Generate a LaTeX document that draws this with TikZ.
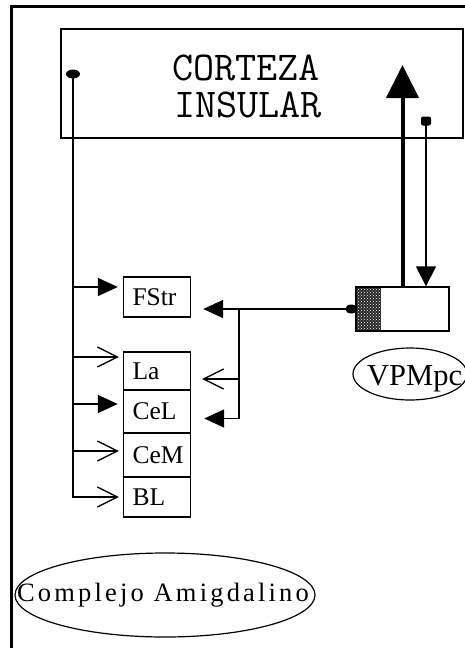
\documentclass[tikz,border=0pt]{standalone}
\usepackage{fontspec}
\setmainfont{Liberation Serif}
\newfontfamily\spacedfam[LetterSpace=12]{Liberation Serif}
\usetikzlibrary{arrows.meta,shapes.geometric,patterns}
\begin{document}
\begin{tikzpicture}[x=1pt,y=-1pt,
  ln/.style={line width=1.6pt},
  fillhead/.style={-{Triangle[length=20pt,width=18pt]}},
  openhead/.style={-{Straight Barb[length=20pt,width=20pt,line width=1.3pt]}},
  nucleus/.style={draw,line width=1.4pt,rectangle,minimum width=67pt,text width=49pt,
    inner xsep=9pt,inner ysep=0pt,align=left,font=\fontsize{25.5}{28}\selectfont},
  framebox/.style={draw,line width=1.4pt,rectangle,inner sep=0pt},
  oval/.style={draw,ellipse,line width=1.2pt,inner sep=0pt},
  cortexfont/.style={font=\ttfamily\fontsize{41}{41}\selectfont,anchor=base,inner sep=0pt}
]
\useasboundingbox (0,0) rectangle (465,648);
\clip (0,0) rectangle (465,648);
\fill[white] (0,0) rectangle (465,648);
% outer frame
\draw[line width=2.5pt] (11.5,700) -- (11.5,6.5) -- (500,6.5);

% cortex box
\node[framebox,minimum width=402pt,minimum height=109pt] (cortex) at (262,83.5) {};
\node[cortexfont] (t1) at (246,80) {CORTEZA};
\node[cortexfont] (t2) at (248,117) {INSULAR};

% nuclei
\node[nucleus,minimum height=40pt] (fstr) at (157,297) {FStr};
\node[nucleus,minimum height=38pt] (la) at (157,371) {La};
\node[nucleus,minimum height=43pt] (cel) at (157,411.5) {CeL};
\node[nucleus,minimum height=44pt] (cem) at (157,455) {CeM};
\node[nucleus,minimum height=40pt] (bl) at (157,497) {BL};

% VPMpc box
\node[framebox,minimum width=93pt,minimum height=44pt,
  path picture={
    \fill[black!85] (path picture bounding box.north west) rectangle ([xshift=25pt]path picture bounding box.south west);
    \fill[pattern=crosshatch dots,pattern color=white] (path picture bounding box.north west) rectangle ([xshift=25pt]path picture bounding box.south west);
  }] (vpm) at (402.5,309) {};

% labels in ellipses
\node[oval,minimum width=114pt,minimum height=52pt] (vpmoval) at (410,374) {};
\node[font=\fontsize{30.5}{31}\selectfont,anchor=base west,inner sep=0pt] (vpmtext) at (367,385) {VPMpc};
\node[oval,minimum width=300pt,minimum height=84pt] (amig) at (165,595) {};
\node[font=\spacedfam\fontsize{26.5}{26}\selectfont] (amigtext) at (163,595) {Complejo Amigdalino};

% left spine from cortex
\coordinate (dotL) at (73,74);
\fill (dotL) ellipse [x radius=7pt, y radius=4.5pt];
\coordinate (fstrin) at ([yshift=10pt]fstr.west);
\coordinate (lain) at ([yshift=14pt]la.west);
\coordinate (celin) at ([yshift=7.5pt]cel.west);
\coordinate (cemin) at ([yshift=4pt]cem.west);
\draw[ln,openhead,shorten >=4pt] (dotL) |- (bl.west);
\draw[ln,fillhead,shorten >=5pt] (dotL |- fstrin) -- (fstrin);
\draw[ln,openhead,shorten >=4pt] (dotL |- lain) -- (lain);
\draw[ln,fillhead,shorten >=5pt] (dotL |- celin) -- (celin);
\draw[ln,openhead,shorten >=4pt] (dotL |- cemin) -- (cemin);

% from VPMpc to amygdala
\fill ([xshift=-4pt]vpm.west) ellipse [x radius=6pt, y radius=4.5pt];
\draw[ln,fillhead,shorten >=12pt] (vpm.west) -- (vpm.west -| fstr.east);
\coordinate (jn) at (239,309);
\coordinate (laout) at ([yshift=-8pt]la.east);
\coordinate (celout) at ([yshift=-7pt]cel.east);
\draw[ln,fillhead,shorten >=13pt] (jn) |- (celout);
\draw[ln,openhead,shorten >=11pt] (jn |- laout) -- (laout);

% VPMpc <-> cortex
\coordinate (upTip) at (402.5,65);
\draw[line width=4pt,-{Triangle[length=33pt,width=32pt]}] (vpm.north) -- (upTip);
\coordinate (dotR) at (426,121);
\fill[rounded corners=2pt] (421,116.5) rectangle (431,125.5);
\draw[ln,-{Triangle[length=20pt,width=20pt]}] (dotR) -- (dotR |- vpm.north);
\end{tikzpicture}
\end{document}
